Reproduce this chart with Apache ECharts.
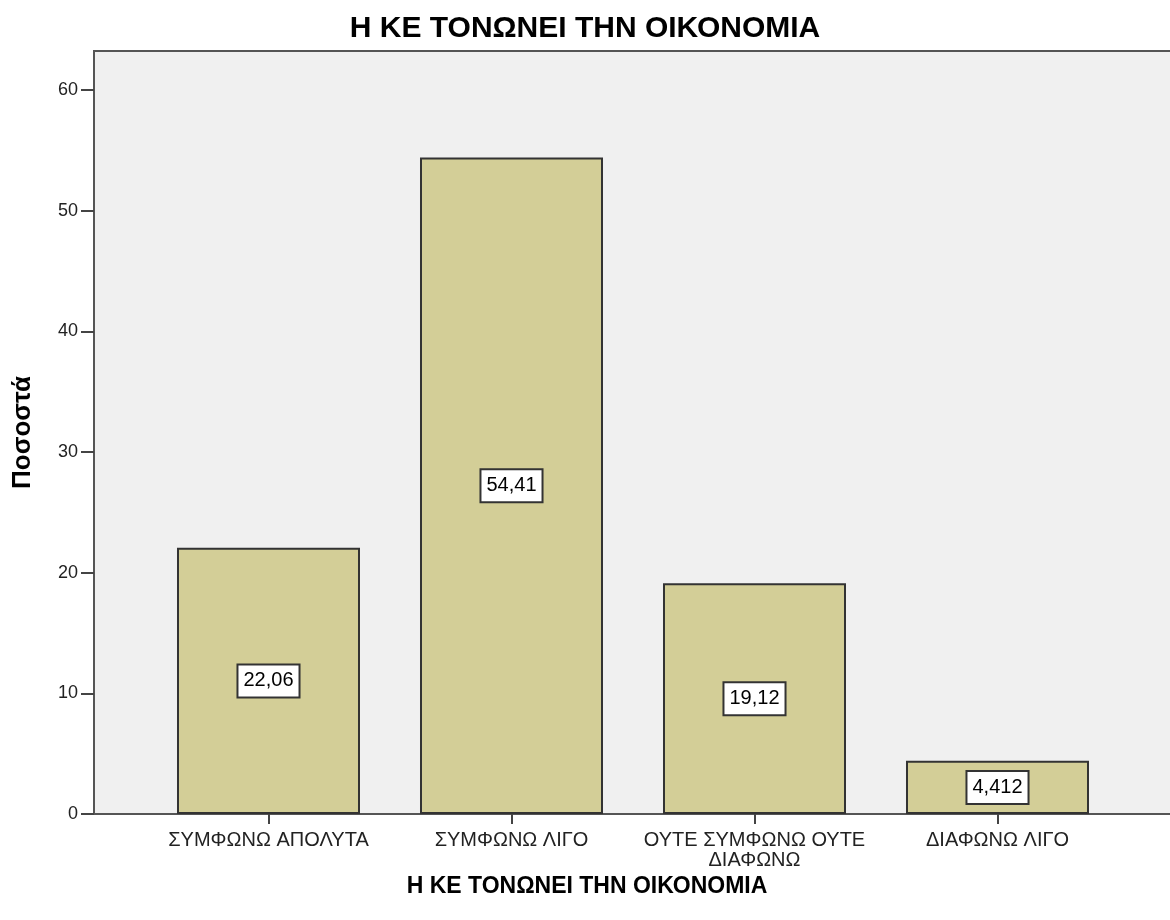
<!DOCTYPE html>
<html>
<head>
<meta charset="utf-8">
<script src="https://cdn.jsdelivr.net/npm/echarts@6/dist/echarts.min.js"></script>
<style>
  html, body { margin: 0; padding: 0; background: #fff; }
  #chart { width: 1170px; height: 920px; }
</style>
</head>
<body>
<div id="chart"></div>
<script>
// categories and values (percent)
var categories = ["ΣΥΜΦΩΝΩ ΑΠΟΛΥΤΑ", "ΣΥΜΦΩΝΩ ΛΙΓΟ", "ΟΥΤΕ ΣΥΜΦΩΝΩ ΟΥΤΕ\nΔΙΑΦΩΝΩ", "ΔΙΑΦΩΝΩ ΛΙΓΟ"];
var percents = [22.06, 54.41, 19.12, 4.412];
var yTicks = [0, 10, 20, 30, 40, 50, 60];
var xTicks = [0, 1, 2, 3];

var titleText = "Η ΚΕ ΤΟΝΩΝΕΙ ΤΗΝ ΟΙΚΟΝΟΜΙΑ";
var font = "'Liberation Sans', Arial, sans-serif";

var chart = echarts.init(document.getElementById("chart"));

// bars sit on a value axis so the spacing can match the original
var barData = percents.map(function (v, i) { return [i, v]; });

chart.setOption({
  animation: false,
  title: {
    text: titleText,
    left: "center",
    top: 14,
    padding: 0,
    textStyle: { fontFamily: font, fontSize: 30, fontWeight: "bold", color: "#000" }
  },
  grid: {
    left: 94,
    top: 51,
    bottom: 106,
    width: 1090,
    outerBoundsMode: "none",
    show: true,
    backgroundColor: "#f0f0f0",
    borderColor: "#555",
    borderWidth: 2
  },
  xAxis: {
    type: "value",
    min: -0.7181,
    max: 3.7675,
    name: titleText,
    nameLocation: "middle",
    nameGap: 47,
    nameTextStyle: { fontFamily: font, fontSize: 23, fontWeight: "bold", color: "#000", padding: [0, 104, 0, 0] },
    splitLine: { show: false },
    axisLine: { show: true, onZero: false, lineStyle: { color: "#555", width: 2 } },
    axisTick: { show: true, length: 10, customValues: xTicks, lineStyle: { color: "#444", width: 2 } },
    axisLabel: {
      customValues: xTicks,
      margin: 16,
      fontFamily: font,
      fontSize: 20,
      lineHeight: 20,
      color: "#222",
      formatter: function (v) { return categories[Math.round(v)] || ""; }
    }
  },
  yAxis: {
    type: "value",
    min: 0,
    max: 63.23,
    name: "Ποσοστά",
    nameLocation: "middle",
    nameGap: 58,
    nameTextStyle: { fontFamily: font, fontSize: 26, fontWeight: "bold", color: "#000" },
    splitLine: { show: false },
    axisLine: { show: true, onZero: false, lineStyle: { color: "#555", width: 2 } },
    axisTick: { show: true, length: 13, customValues: yTicks, lineStyle: { color: "#444", width: 2 } },
    axisLabel: {
      customValues: yTicks,
      margin: 16,
      fontFamily: font,
      fontSize: 18,
      color: "#222"
    }
  },
  series: [{
    type: "bar",
    data: barData,
    barWidth: 183,
    itemStyle: { color: "#d3ce97", borderColor: "#333", borderWidth: 2 },
    label: {
      show: true,
      position: "inside",
      fontFamily: font,
      fontSize: 20,
      color: "#000",
      backgroundColor: "#fff",
      borderColor: "#333",
      borderWidth: 2,
      padding: [6, 5, 5, 5],
      formatter: function (p) { return String(p.value[1]).replace(".", ","); }
    }
  }]
});
</script>
</body>
</html>
